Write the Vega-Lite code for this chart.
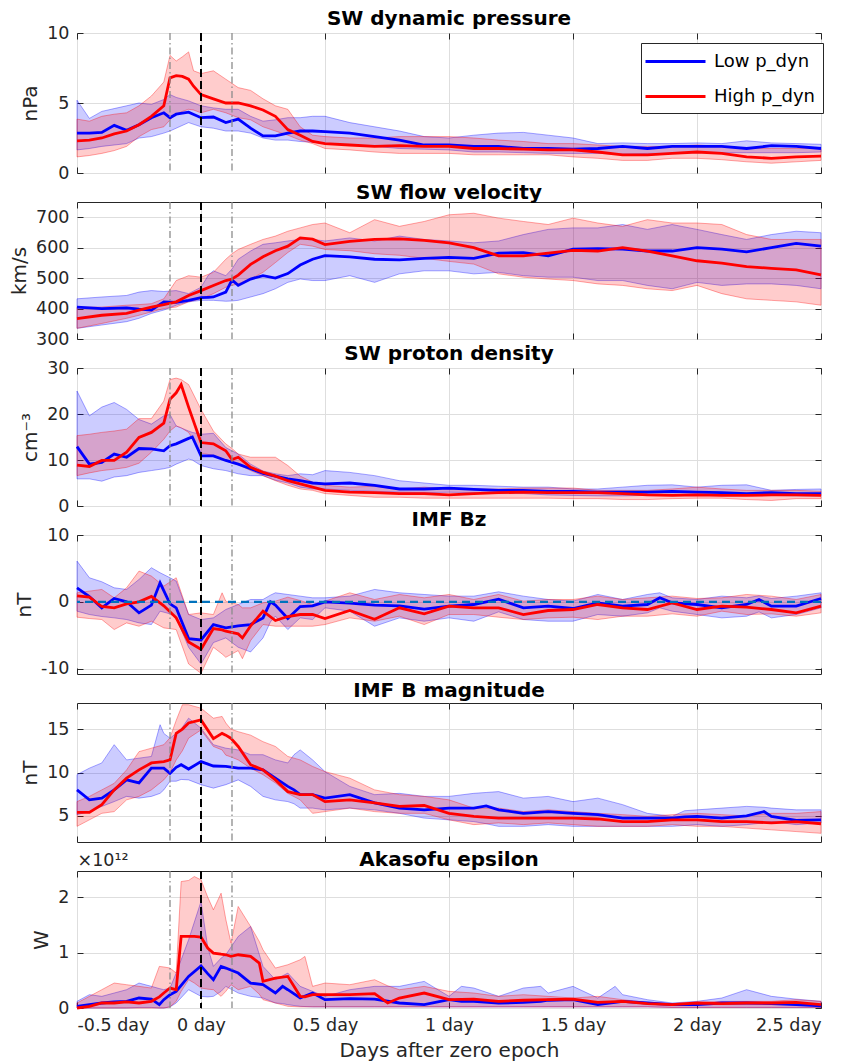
{
"$schema":"https://vega.github.io/schema/vega-lite/v6.json",
"padding":{"left":9,"top":8,"right":5,"bottom":0},
"bounds":"flush",
"spacing":29,
"config":{
 "font":"DejaVu Sans",
 "view":{"stroke":"#262626","strokeWidth":1},
 "axis":{"labelFont":"DejaVu Sans","labelFontSize":17.5,"labelColor":"#262626","titleFont":"DejaVu Sans","titleFontSize":20,"titleFontWeight":"normal","titleColor":"#262626","gridColor":"#dedede","gridWidth":1,"domain":false,"tickColor":"#262626","tickSize":-6,"labelPadding":14,"titlePadding":6},
 "title":{"font":"DejaVu Sans","fontSize":20,"fontWeight":"bold","color":"#000000","offset":-5}
},
"datasets":{
"markers":[{"day":-0.125,"kind":"window"},{"day":0,"kind":"epoch"},{"day":0.125,"kind":"window"}],
"zero":[{"level":0}],
"pdyn":[
{"group":"Low","day":-0.5,"mean":2.85,"lo":1.65,"hi":5.2},{"group":"Low","day":-0.45,"mean":2.85,"lo":1.75,"hi":3.9},{"group":"Low","day":-0.4,"mean":2.9,"lo":1.9,"hi":4.4},{"group":"Low","day":-0.35,"mean":3.4,"lo":2.0,"hi":4.6},{"group":"Low","day":-0.3,"mean":3.05,"lo":2.1,"hi":4.8},{"group":"Low","day":-0.25,"mean":3.45,"lo":2.5,"hi":5.0},{"group":"Low","day":-0.2,"mean":3.95,"lo":2.6,"hi":4.9},{"group":"Low","day":-0.15,"mean":4.3,"lo":2.85,"hi":5.25},{"group":"Low","day":-0.125,"mean":3.95,"lo":3.0,"hi":5.6},{"group":"Low","day":-0.1,"mean":4.2,"lo":3.2,"hi":5.4},{"group":"Low","day":-0.05,"mean":4.35,"lo":3.6,"hi":5.15},{"group":"Low","day":0,"mean":3.95,"lo":3.3,"hi":4.8},{"group":"Low","day":0.05,"mean":4.0,"lo":3.2,"hi":4.65},{"group":"Low","day":0.1,"mean":3.6,"lo":3.0,"hi":4.55},{"group":"Low","day":0.15,"mean":3.85,"lo":3.0,"hi":4.55},{"group":"Low","day":0.2,"mean":3.2,"lo":2.85,"hi":4.05},{"group":"Low","day":0.25,"mean":2.65,"lo":2.5,"hi":3.7},{"group":"Low","day":0.3,"mean":2.65,"lo":2.35,"hi":3.8},{"group":"Low","day":0.35,"mean":2.85,"lo":2.35,"hi":3.95},{"group":"Low","day":0.4,"mean":3.0,"lo":2.25,"hi":3.95},{"group":"Low","day":0.45,"mean":3.0,"lo":2.2,"hi":4.05},{"group":"Low","day":0.5,"mean":2.95,"lo":2.1,"hi":4.05},{"group":"Low","day":0.6,"mean":2.85,"lo":2.0,"hi":3.6},{"group":"Low","day":0.7,"mean":2.6,"lo":1.9,"hi":3.3},{"group":"Low","day":0.8,"mean":2.35,"lo":1.75,"hi":3.0},{"group":"Low","day":0.9,"mean":2.0,"lo":1.7,"hi":2.6},{"group":"Low","day":1.0,"mean":2.0,"lo":1.65,"hi":2.5},{"group":"Low","day":1.1,"mean":1.9,"lo":1.5,"hi":2.7},{"group":"Low","day":1.2,"mean":1.9,"lo":1.5,"hi":2.85},{"group":"Low","day":1.3,"mean":1.75,"lo":1.45,"hi":2.9},{"group":"Low","day":1.4,"mean":1.75,"lo":1.4,"hi":2.7},{"group":"Low","day":1.5,"mean":1.7,"lo":1.4,"hi":2.5},{"group":"Low","day":1.6,"mean":1.75,"lo":1.4,"hi":2.1},{"group":"Low","day":1.7,"mean":1.9,"lo":1.35,"hi":2.15},{"group":"Low","day":1.8,"mean":1.75,"lo":1.4,"hi":2.1},{"group":"Low","day":1.9,"mean":1.9,"lo":1.4,"hi":2.1},{"group":"Low","day":2.0,"mean":1.9,"lo":1.45,"hi":2.15},{"group":"Low","day":2.1,"mean":1.9,"lo":1.45,"hi":2.1},{"group":"Low","day":2.2,"mean":1.75,"lo":1.45,"hi":2.3},{"group":"Low","day":2.3,"mean":1.95,"lo":1.45,"hi":2.15},{"group":"Low","day":2.4,"mean":1.9,"lo":1.45,"hi":2.1},{"group":"Low","day":2.5,"mean":1.75,"lo":1.5,"hi":2.05},
{"group":"High","day":-0.5,"mean":2.3,"lo":1.15,"hi":3.85},{"group":"High","day":-0.45,"mean":2.35,"lo":1.25,"hi":3.7},{"group":"High","day":-0.4,"mean":2.5,"lo":1.4,"hi":4.05},{"group":"High","day":-0.35,"mean":2.8,"lo":1.6,"hi":4.2},{"group":"High","day":-0.3,"mean":3.0,"lo":1.9,"hi":4.3},{"group":"High","day":-0.25,"mean":3.45,"lo":2.6,"hi":4.8},{"group":"High","day":-0.2,"mean":4.05,"lo":3.1,"hi":5.5},{"group":"High","day":-0.15,"mean":4.8,"lo":3.3,"hi":6.5},{"group":"High","day":-0.125,"mean":6.8,"lo":3.8,"hi":8.4},{"group":"High","day":-0.1,"mean":6.95,"lo":4.2,"hi":8.0},{"group":"High","day":-0.075,"mean":6.9,"lo":4.4,"hi":8.3},{"group":"High","day":-0.05,"mean":6.7,"lo":4.55,"hi":8.65},{"group":"High","day":-0.03,"mean":6.2,"lo":4.5,"hi":7.3},{"group":"High","day":0,"mean":5.6,"lo":4.3,"hi":7.1},{"group":"High","day":0.05,"mean":5.3,"lo":4.55,"hi":7.3},{"group":"High","day":0.1,"mean":5.0,"lo":4.3,"hi":6.7},{"group":"High","day":0.15,"mean":5.0,"lo":3.95,"hi":6.1},{"group":"High","day":0.2,"mean":4.8,"lo":3.8,"hi":5.9},{"group":"High","day":0.25,"mean":4.5,"lo":3.3,"hi":5.3},{"group":"High","day":0.3,"mean":4.05,"lo":3.0,"hi":4.8},{"group":"High","day":0.35,"mean":3.1,"lo":2.7,"hi":4.55},{"group":"High","day":0.4,"mean":2.7,"lo":2.35,"hi":3.3},{"group":"High","day":0.45,"mean":2.25,"lo":2.1,"hi":2.7},{"group":"High","day":0.5,"mean":2.1,"lo":1.75,"hi":2.6},{"group":"High","day":0.6,"mean":2.0,"lo":1.65,"hi":2.5},{"group":"High","day":0.7,"mean":1.9,"lo":1.5,"hi":2.5},{"group":"High","day":0.8,"mean":1.95,"lo":1.4,"hi":2.6},{"group":"High","day":0.9,"mean":1.9,"lo":1.4,"hi":2.6},{"group":"High","day":1.0,"mean":1.9,"lo":1.4,"hi":2.6},{"group":"High","day":1.1,"mean":1.75,"lo":1.3,"hi":2.5},{"group":"High","day":1.2,"mean":1.75,"lo":1.3,"hi":2.35},{"group":"High","day":1.3,"mean":1.7,"lo":1.3,"hi":2.25},{"group":"High","day":1.4,"mean":1.65,"lo":1.3,"hi":2.1},{"group":"High","day":1.5,"mean":1.65,"lo":1.15,"hi":2.1},{"group":"High","day":1.6,"mean":1.5,"lo":1.05,"hi":2.0},{"group":"High","day":1.7,"mean":1.3,"lo":0.9,"hi":1.9},{"group":"High","day":1.8,"mean":1.3,"lo":0.9,"hi":1.9},{"group":"High","day":1.9,"mean":1.4,"lo":1.05,"hi":1.9},{"group":"High","day":2.0,"mean":1.5,"lo":1.05,"hi":2.0},{"group":"High","day":2.1,"mean":1.4,"lo":0.95,"hi":1.9},{"group":"High","day":2.2,"mean":1.15,"lo":0.8,"hi":1.75},{"group":"High","day":2.3,"mean":1.05,"lo":0.7,"hi":1.75},{"group":"High","day":2.4,"mean":1.15,"lo":0.8,"hi":1.75},{"group":"High","day":2.5,"mean":1.2,"lo":0.9,"hi":1.75}
],
"vsw":[
{"group":"Low","day":-0.5,"mean":405,"lo":335,"hi":432},{"group":"Low","day":-0.4,"mean":400,"lo":346,"hi":438},{"group":"Low","day":-0.3,"mean":402,"lo":357,"hi":443},{"group":"Low","day":-0.25,"mean":398,"lo":368,"hi":454},{"group":"Low","day":-0.2,"mean":395,"lo":384,"hi":459},{"group":"Low","day":-0.15,"mean":422,"lo":395,"hi":456},{"group":"Low","day":-0.1,"mean":420,"lo":411,"hi":459},{"group":"Low","day":-0.05,"mean":427,"lo":422,"hi":449},{"group":"Low","day":0,"mean":436,"lo":427,"hi":470},{"group":"Low","day":0.03,"mean":437,"lo":427,"hi":510},{"group":"Low","day":0.05,"mean":438,"lo":427,"hi":524},{"group":"Low","day":0.1,"mean":454,"lo":424,"hi":508},{"group":"Low","day":0.125,"mean":494,"lo":425,"hi":530},{"group":"Low","day":0.15,"mean":476,"lo":427,"hi":562},{"group":"Low","day":0.2,"mean":497,"lo":438,"hi":589},{"group":"Low","day":0.25,"mean":508,"lo":449,"hi":611},{"group":"Low","day":0.3,"mean":500,"lo":465,"hi":616},{"group":"Low","day":0.35,"mean":515,"lo":486,"hi":622},{"group":"Low","day":0.4,"mean":543,"lo":497,"hi":627},{"group":"Low","day":0.45,"mean":562,"lo":492,"hi":627},{"group":"Low","day":0.5,"mean":574,"lo":492,"hi":622},{"group":"Low","day":0.6,"mean":570,"lo":508,"hi":632},{"group":"Low","day":0.7,"mean":562,"lo":486,"hi":622},{"group":"Low","day":0.8,"mean":560,"lo":514,"hi":638},{"group":"Low","day":0.9,"mean":565,"lo":524,"hi":627},{"group":"Low","day":1.0,"mean":568,"lo":524,"hi":622},{"group":"Low","day":1.1,"mean":565,"lo":514,"hi":616},{"group":"Low","day":1.2,"mean":582,"lo":519,"hi":622},{"group":"Low","day":1.3,"mean":584,"lo":508,"hi":643},{"group":"Low","day":1.4,"mean":573,"lo":503,"hi":660},{"group":"Low","day":1.5,"mean":595,"lo":503,"hi":665},{"group":"Low","day":1.6,"mean":597,"lo":492,"hi":665},{"group":"Low","day":1.7,"mean":595,"lo":492,"hi":676},{"group":"Low","day":1.8,"mean":589,"lo":476,"hi":660},{"group":"Low","day":1.9,"mean":589,"lo":465,"hi":676},{"group":"Low","day":2.0,"mean":600,"lo":486,"hi":660},{"group":"Low","day":2.1,"mean":595,"lo":476,"hi":643},{"group":"Low","day":2.2,"mean":586,"lo":481,"hi":627},{"group":"Low","day":2.3,"mean":600,"lo":481,"hi":643},{"group":"Low","day":2.4,"mean":614,"lo":476,"hi":654},{"group":"Low","day":2.5,"mean":605,"lo":465,"hi":649},
{"group":"High","day":-0.5,"mean":367,"lo":335,"hi":405},{"group":"High","day":-0.4,"mean":378,"lo":351,"hi":405},{"group":"High","day":-0.3,"mean":384,"lo":368,"hi":411},{"group":"High","day":-0.25,"mean":395,"lo":378,"hi":413},{"group":"High","day":-0.2,"mean":405,"lo":389,"hi":416},{"group":"High","day":-0.15,"mean":413,"lo":400,"hi":432},{"group":"High","day":-0.1,"mean":422,"lo":405,"hi":492},{"group":"High","day":-0.05,"mean":443,"lo":422,"hi":508},{"group":"High","day":0,"mean":459,"lo":432,"hi":503},{"group":"High","day":0.05,"mean":476,"lo":449,"hi":519},{"group":"High","day":0.1,"mean":492,"lo":470,"hi":562},{"group":"High","day":0.125,"mean":497,"lo":476,"hi":580},{"group":"High","day":0.15,"mean":510,"lo":481,"hi":594},{"group":"High","day":0.2,"mean":545,"lo":497,"hi":611},{"group":"High","day":0.25,"mean":570,"lo":519,"hi":627},{"group":"High","day":0.3,"mean":590,"lo":551,"hi":638},{"group":"High","day":0.35,"mean":605,"lo":584,"hi":654},{"group":"High","day":0.4,"mean":632,"lo":611,"hi":665},{"group":"High","day":0.45,"mean":628,"lo":605,"hi":676},{"group":"High","day":0.5,"mean":610,"lo":594,"hi":681},{"group":"High","day":0.6,"mean":621,"lo":590,"hi":649},{"group":"High","day":0.7,"mean":627,"lo":580,"hi":692},{"group":"High","day":0.8,"mean":629,"lo":575,"hi":670},{"group":"High","day":0.9,"mean":624,"lo":565,"hi":686},{"group":"High","day":1.0,"mean":616,"lo":555,"hi":708},{"group":"High","day":1.1,"mean":600,"lo":546,"hi":713},{"group":"High","day":1.2,"mean":573,"lo":514,"hi":697},{"group":"High","day":1.3,"mean":573,"lo":503,"hi":686},{"group":"High","day":1.4,"mean":582,"lo":497,"hi":676},{"group":"High","day":1.5,"mean":591,"lo":492,"hi":697},{"group":"High","day":1.6,"mean":589,"lo":481,"hi":681},{"group":"High","day":1.7,"mean":600,"lo":476,"hi":670},{"group":"High","day":1.8,"mean":589,"lo":465,"hi":692},{"group":"High","day":1.9,"mean":573,"lo":459,"hi":681},{"group":"High","day":2.0,"mean":557,"lo":476,"hi":681},{"group":"High","day":2.1,"mean":549,"lo":449,"hi":676},{"group":"High","day":2.2,"mean":538,"lo":432,"hi":643},{"group":"High","day":2.3,"mean":532,"lo":427,"hi":627},{"group":"High","day":2.4,"mean":527,"lo":422,"hi":627},{"group":"High","day":2.5,"mean":511,"lo":411,"hi":627}
],
"np":[
{"group":"Low","day":-0.5,"mean":12.9,"lo":5.9,"hi":25.0},{"group":"Low","day":-0.45,"mean":9.1,"lo":5.9,"hi":19.6},{"group":"Low","day":-0.4,"mean":9.5,"lo":5.4,"hi":21.5},{"group":"Low","day":-0.35,"mean":11.3,"lo":6.3,"hi":22.5},{"group":"Low","day":-0.3,"mean":10.6,"lo":6.6,"hi":21.0},{"group":"Low","day":-0.25,"mean":12.5,"lo":7.3,"hi":18.8},{"group":"Low","day":-0.2,"mean":12.4,"lo":7.7,"hi":17.8},{"group":"Low","day":-0.15,"mean":12.0,"lo":8.1,"hi":19.6},{"group":"Low","day":-0.125,"mean":13.1,"lo":8.4,"hi":19.9},{"group":"Low","day":-0.1,"mean":13.5,"lo":9.1,"hi":17.4},{"group":"Low","day":-0.05,"mean":14.7,"lo":10.2,"hi":16.3},{"group":"Low","day":-0.035,"mean":15.0,"lo":10.0,"hi":16.0},{"group":"Low","day":0,"mean":10.9,"lo":8.8,"hi":15.6},{"group":"Low","day":0.05,"mean":10.9,"lo":8.1,"hi":15.8},{"group":"Low","day":0.1,"mean":9.9,"lo":7.7,"hi":12.7},{"group":"Low","day":0.15,"mean":9.1,"lo":7.0,"hi":11.3},{"group":"Low","day":0.2,"mean":8.1,"lo":6.6,"hi":9.1},{"group":"Low","day":0.25,"mean":7.1,"lo":6.6,"hi":7.6},{"group":"Low","day":0.3,"mean":6.5,"lo":5.6,"hi":7.0},{"group":"Low","day":0.35,"mean":5.9,"lo":5.0,"hi":6.6},{"group":"Low","day":0.4,"mean":5.5,"lo":4.1,"hi":7.0},{"group":"Low","day":0.45,"mean":5.0,"lo":3.7,"hi":6.8},{"group":"Low","day":0.5,"mean":4.8,"lo":3.7,"hi":7.7},{"group":"Low","day":0.6,"mean":5.0,"lo":3.4,"hi":7.3},{"group":"Low","day":0.7,"mean":4.5,"lo":3.2,"hi":6.6},{"group":"Low","day":0.8,"mean":3.7,"lo":3.0,"hi":5.5},{"group":"Low","day":0.9,"mean":3.7,"lo":2.9,"hi":5.0},{"group":"Low","day":1.0,"mean":3.9,"lo":3.0,"hi":4.5},{"group":"Low","day":1.1,"mean":3.6,"lo":2.9,"hi":4.5},{"group":"Low","day":1.2,"mean":3.4,"lo":2.7,"hi":4.3},{"group":"Low","day":1.3,"mean":3.4,"lo":2.7,"hi":4.1},{"group":"Low","day":1.4,"mean":3.2,"lo":2.4,"hi":4.1},{"group":"Low","day":1.5,"mean":3.2,"lo":2.3,"hi":3.7},{"group":"Low","day":1.6,"mean":3.0,"lo":2.2,"hi":3.7},{"group":"Low","day":1.7,"mean":3.0,"lo":2.2,"hi":4.1},{"group":"Low","day":1.8,"mean":3.0,"lo":2.3,"hi":4.5},{"group":"Low","day":1.9,"mean":3.2,"lo":2.3,"hi":4.6},{"group":"Low","day":2.0,"mean":3.0,"lo":2.3,"hi":4.1},{"group":"Low","day":2.1,"mean":2.9,"lo":2.3,"hi":4.5},{"group":"Low","day":2.2,"mean":2.7,"lo":2.4,"hi":4.6},{"group":"Low","day":2.3,"mean":2.9,"lo":2.3,"hi":3.4},{"group":"Low","day":2.4,"mean":2.7,"lo":2.2,"hi":3.6},{"group":"Low","day":2.5,"mean":2.7,"lo":2.2,"hi":3.7},
{"group":"High","day":-0.5,"mean":8.9,"lo":6.6,"hi":15.3},{"group":"High","day":-0.45,"mean":8.6,"lo":7.2,"hi":15.6},{"group":"High","day":-0.4,"mean":9.9,"lo":7.7,"hi":16.0},{"group":"High","day":-0.35,"mean":9.9,"lo":8.0,"hi":16.3},{"group":"High","day":-0.3,"mean":11.7,"lo":8.4,"hi":16.7},{"group":"High","day":-0.25,"mean":14.9,"lo":9.3,"hi":19.0},{"group":"High","day":-0.2,"mean":16.0,"lo":11.7,"hi":19.0},{"group":"High","day":-0.15,"mean":18.0,"lo":14.5,"hi":22.8},{"group":"High","day":-0.125,"mean":23.2,"lo":16.3,"hi":27.5},{"group":"High","day":-0.1,"mean":24.6,"lo":17.4,"hi":27.8},{"group":"High","day":-0.08,"mean":26.4,"lo":17.0,"hi":27.5},{"group":"High","day":-0.05,"mean":21.5,"lo":16.0,"hi":26.4},{"group":"High","day":0,"mean":13.8,"lo":11.5,"hi":21.0},{"group":"High","day":0.05,"mean":13.5,"lo":11.0,"hi":16.3},{"group":"High","day":0.1,"mean":12.0,"lo":10.0,"hi":13.5},{"group":"High","day":0.125,"mean":10.1,"lo":9.3,"hi":12.5},{"group":"High","day":0.15,"mean":10.6,"lo":9.0,"hi":11.3},{"group":"High","day":0.2,"mean":8.4,"lo":7.7,"hi":10.6},{"group":"High","day":0.25,"mean":7.3,"lo":6.6,"hi":10.6},{"group":"High","day":0.3,"mean":6.5,"lo":5.5,"hi":10.6},{"group":"High","day":0.35,"mean":5.5,"lo":4.5,"hi":8.8},{"group":"High","day":0.4,"mean":4.8,"lo":3.7,"hi":6.5},{"group":"High","day":0.45,"mean":4.1,"lo":3.4,"hi":5.2},{"group":"High","day":0.5,"mean":3.4,"lo":2.7,"hi":4.5},{"group":"High","day":0.6,"mean":3.0,"lo":2.3,"hi":4.1},{"group":"High","day":0.7,"mean":2.9,"lo":1.9,"hi":4.3},{"group":"High","day":0.8,"mean":2.7,"lo":1.9,"hi":3.7},{"group":"High","day":0.9,"mean":2.7,"lo":1.7,"hi":4.1},{"group":"High","day":1.0,"mean":2.4,"lo":1.7,"hi":3.7},{"group":"High","day":1.1,"mean":2.7,"lo":1.7,"hi":3.7},{"group":"High","day":1.2,"mean":2.9,"lo":1.7,"hi":3.7},{"group":"High","day":1.3,"mean":3.0,"lo":1.7,"hi":3.9},{"group":"High","day":1.4,"mean":2.9,"lo":1.7,"hi":3.9},{"group":"High","day":1.5,"mean":2.9,"lo":1.6,"hi":3.9},{"group":"High","day":1.6,"mean":2.9,"lo":1.6,"hi":3.4},{"group":"High","day":1.7,"mean":2.7,"lo":1.4,"hi":3.4},{"group":"High","day":1.8,"mean":2.4,"lo":1.4,"hi":3.4},{"group":"High","day":1.9,"mean":2.3,"lo":1.6,"hi":3.7},{"group":"High","day":2.0,"mean":2.4,"lo":1.7,"hi":4.1},{"group":"High","day":2.1,"mean":2.3,"lo":1.7,"hi":3.7},{"group":"High","day":2.2,"mean":2.3,"lo":1.4,"hi":3.4},{"group":"High","day":2.3,"mean":2.4,"lo":1.2,"hi":3.4},{"group":"High","day":2.4,"mean":2.4,"lo":1.6,"hi":3.4},{"group":"High","day":2.5,"mean":2.3,"lo":1.6,"hi":3.2}
],
"bz":[
{"group":"Low","day":-0.5,"mean":2.1,"lo":-1.4,"hi":6.1},{"group":"Low","day":-0.45,"mean":0.8,"lo":-1.9,"hi":3.6},{"group":"Low","day":-0.4,"mean":-0.9,"lo":-2.2,"hi":3.0},{"group":"Low","day":-0.35,"mean":0.5,"lo":-2.4,"hi":2.1},{"group":"Low","day":-0.3,"mean":0.0,"lo":-2.65,"hi":1.85},{"group":"Low","day":-0.25,"mean":-1.65,"lo":-3.15,"hi":3.35},{"group":"Low","day":-0.2,"mean":-0.5,"lo":-3.4,"hi":5.1},{"group":"Low","day":-0.165,"mean":2.85,"lo":-1.4,"hi":4.35},{"group":"Low","day":-0.125,"mean":-0.3,"lo":-1.8,"hi":3.6},{"group":"Low","day":-0.1,"mean":-0.9,"lo":-2.4,"hi":3.1},{"group":"Low","day":-0.05,"mean":-5.5,"lo":-6.8,"hi":-1.9},{"group":"Low","day":0,"mean":-5.7,"lo":-9.3,"hi":-2.65},{"group":"Low","day":0.05,"mean":-3.4,"lo":-6.1,"hi":-2.4},{"group":"Low","day":0.1,"mean":-3.9,"lo":-5.4,"hi":-1.15},{"group":"Low","day":0.15,"mean":-3.6,"lo":-6.8,"hi":-0.4},{"group":"Low","day":0.2,"mean":-3.4,"lo":-7.5,"hi":0.35},{"group":"Low","day":0.25,"mean":-2.4,"lo":-5.4,"hi":0.35},{"group":"Low","day":0.28,"mean":0.0,"lo":-3.0,"hi":1.0},{"group":"Low","day":0.3,"mean":-0.5,"lo":-2.15,"hi":1.35},{"group":"Low","day":0.35,"mean":-2.5,"lo":-4.15,"hi":1.1},{"group":"Low","day":0.4,"mean":-0.7,"lo":-2.4,"hi":0.85},{"group":"Low","day":0.45,"mean":-0.6,"lo":-2.65,"hi":0.6},{"group":"Low","day":0.5,"mean":0.0,"lo":-0.9,"hi":0.6},{"group":"Low","day":0.6,"mean":-0.2,"lo":-1.4,"hi":0.85},{"group":"Low","day":0.7,"mean":-0.5,"lo":-3.65,"hi":1.85},{"group":"Low","day":0.8,"mean":-0.6,"lo":-2.4,"hi":1.35},{"group":"Low","day":0.9,"mean":-1.1,"lo":-2.9,"hi":1.1},{"group":"Low","day":1.0,"mean":-0.65,"lo":-2.4,"hi":0.85},{"group":"Low","day":1.1,"mean":-0.4,"lo":-2.9,"hi":0.85},{"group":"Low","day":1.2,"mean":0.4,"lo":-1.5,"hi":1.5},{"group":"Low","day":1.3,"mean":-0.9,"lo":-2.65,"hi":0.85},{"group":"Low","day":1.4,"mean":-0.65,"lo":-2.9,"hi":0.35},{"group":"Low","day":1.5,"mean":-1.0,"lo":-2.9,"hi":0.1},{"group":"Low","day":1.6,"mean":-0.15,"lo":-1.9,"hi":1.1},{"group":"Low","day":1.7,"mean":-0.65,"lo":-2.15,"hi":0.35},{"group":"Low","day":1.8,"mean":-0.4,"lo":-1.65,"hi":1.1},{"group":"Low","day":1.85,"mean":0.6,"lo":-0.9,"hi":1.35},{"group":"Low","day":1.9,"mean":-0.15,"lo":-1.4,"hi":0.6},{"group":"Low","day":2.0,"mean":-0.4,"lo":-1.9,"hi":0.35},{"group":"Low","day":2.1,"mean":-0.9,"lo":-2.4,"hi":0.85},{"group":"Low","day":2.2,"mean":-0.4,"lo":-2.15,"hi":0.6},{"group":"Low","day":2.25,"mean":0.35,"lo":-1.5,"hi":0.9},{"group":"Low","day":2.3,"mean":-0.65,"lo":-2.4,"hi":0.5},{"group":"Low","day":2.4,"mean":-0.65,"lo":-1.9,"hi":0.85},{"group":"Low","day":2.5,"mean":0.5,"lo":-0.9,"hi":1.35},
{"group":"High","day":-0.5,"mean":0.9,"lo":-2.3,"hi":1.35},{"group":"High","day":-0.45,"mean":0.7,"lo":-2.5,"hi":1.6},{"group":"High","day":-0.4,"mean":-0.7,"lo":-2.65,"hi":1.85},{"group":"High","day":-0.35,"mean":-0.9,"lo":-4.15,"hi":0.6},{"group":"High","day":-0.3,"mean":-0.3,"lo":-3.15,"hi":2.1},{"group":"High","day":-0.25,"mean":0.0,"lo":-3.65,"hi":4.6},{"group":"High","day":-0.2,"mean":0.8,"lo":-2.9,"hi":3.85},{"group":"High","day":-0.15,"mean":-0.6,"lo":-3.9,"hi":2.35},{"group":"High","day":-0.1,"mean":-2.4,"lo":-4.15,"hi":3.6},{"group":"High","day":-0.05,"mean":-6.0,"lo":-9.3,"hi":-1.9},{"group":"High","day":0,"mean":-7.1,"lo":-10.7,"hi":-1.65},{"group":"High","day":0.05,"mean":-4.0,"lo":-6.8,"hi":-1.9},{"group":"High","day":0.085,"mean":-4.2,"lo":-7.8,"hi":1.35},{"group":"High","day":0.1,"mean":-4.4,"lo":-8.3,"hi":0.1},{"group":"High","day":0.15,"mean":-4.8,"lo":-7.3,"hi":-0.4},{"group":"High","day":0.167,"mean":-5.4,"lo":-8.5,"hi":-0.9},{"group":"High","day":0.2,"mean":-3.6,"lo":-5.8,"hi":-0.9},{"group":"High","day":0.25,"mean":-1.4,"lo":-3.4,"hi":-0.15},{"group":"High","day":0.3,"mean":-2.8,"lo":-3.65,"hi":0.1},{"group":"High","day":0.35,"mean":-2.2,"lo":-3.65,"hi":0.7},{"group":"High","day":0.4,"mean":-1.9,"lo":-3.65,"hi":0.2},{"group":"High","day":0.45,"mean":-1.9,"lo":-3.65,"hi":-0.4},{"group":"High","day":0.5,"mean":-2.5,"lo":-3.4,"hi":0.1},{"group":"High","day":0.6,"mean":-1.3,"lo":-2.4,"hi":1.35},{"group":"High","day":0.7,"mean":-2.6,"lo":-2.9,"hi":0.35},{"group":"High","day":0.8,"mean":-0.9,"lo":-2.15,"hi":1.1},{"group":"High","day":0.9,"mean":-1.8,"lo":-3.4,"hi":0.6},{"group":"High","day":1.0,"mean":-0.65,"lo":-1.9,"hi":1.1},{"group":"High","day":1.1,"mean":-0.9,"lo":-1.9,"hi":0.35},{"group":"High","day":1.2,"mean":-0.9,"lo":-2.3,"hi":1.1},{"group":"High","day":1.3,"mean":-1.9,"lo":-2.65,"hi":0.1},{"group":"High","day":1.4,"mean":-1.3,"lo":-2.4,"hi":0.35},{"group":"High","day":1.5,"mean":-1.15,"lo":-2.3,"hi":0.35},{"group":"High","day":1.6,"mean":-0.4,"lo":-2.65,"hi":0.85},{"group":"High","day":1.7,"mean":-0.9,"lo":-2.15,"hi":0.35},{"group":"High","day":1.8,"mean":-1.15,"lo":-2.15,"hi":0.6},{"group":"High","day":1.9,"mean":-0.15,"lo":-1.8,"hi":0.85},{"group":"High","day":2.0,"mean":-1.15,"lo":-2.15,"hi":0.5},{"group":"High","day":2.1,"mean":-0.65,"lo":-1.4,"hi":0.6},{"group":"High","day":2.2,"mean":-0.8,"lo":-1.9,"hi":1.1},{"group":"High","day":2.3,"mean":-1.15,"lo":-1.8,"hi":0.85},{"group":"High","day":2.4,"mean":-1.65,"lo":-2.15,"hi":0.35},{"group":"High","day":2.5,"mean":-0.65,"lo":-1.65,"hi":1.1}
],
"bmag":[
{"group":"Low","day":-0.5,"mean":8.0,"lo":5.15,"hi":9.75},{"group":"Low","day":-0.45,"mean":6.85,"lo":5.5,"hi":10.5},{"group":"Low","day":-0.4,"mean":7.05,"lo":6.1,"hi":11.1},{"group":"Low","day":-0.35,"mean":8.0,"lo":6.65,"hi":13.2},{"group":"Low","day":-0.3,"mean":9.15,"lo":7.25,"hi":11.45},{"group":"Low","day":-0.25,"mean":8.8,"lo":7.05,"hi":11.65},{"group":"Low","day":-0.2,"mean":10.5,"lo":7.25,"hi":11.85},{"group":"Low","day":-0.165,"mean":10.5,"lo":7.6,"hi":15.5},{"group":"Low","day":-0.15,"mean":10.5,"lo":8.0,"hi":14.5},{"group":"Low","day":-0.125,"mean":9.9,"lo":9.0,"hi":13.95},{"group":"Low","day":-0.1,"mean":10.6,"lo":9.0,"hi":14.5},{"group":"Low","day":-0.08,"mean":10.9,"lo":9.2,"hi":15.0},{"group":"Low","day":-0.05,"mean":10.4,"lo":9.15,"hi":16.25},{"group":"Low","day":0,"mean":11.25,"lo":8.6,"hi":15.1},{"group":"Low","day":0.05,"mean":10.75,"lo":8.2,"hi":13.2},{"group":"Low","day":0.1,"mean":10.7,"lo":8.6,"hi":12.8},{"group":"Low","day":0.15,"mean":10.5,"lo":9.15,"hi":12.6},{"group":"Low","day":0.2,"mean":10.5,"lo":8.4,"hi":12.05},{"group":"Low","day":0.25,"mean":10.3,"lo":7.25,"hi":12.05},{"group":"Low","day":0.3,"mean":9.35,"lo":6.85,"hi":11.45},{"group":"Low","day":0.35,"mean":8.4,"lo":6.65,"hi":11.1},{"group":"Low","day":0.375,"mean":8.0,"lo":6.4,"hi":12.05},{"group":"Low","day":0.4,"mean":7.45,"lo":5.9,"hi":12.6},{"group":"Low","day":0.45,"mean":7.45,"lo":5.9,"hi":11.45},{"group":"Low","day":0.5,"mean":7.05,"lo":5.7,"hi":10.1},{"group":"Low","day":0.6,"mean":7.45,"lo":5.9,"hi":8.4},{"group":"Low","day":0.7,"mean":6.5,"lo":5.7,"hi":7.45},{"group":"Low","day":0.8,"mean":5.9,"lo":5.3,"hi":7.6},{"group":"Low","day":0.9,"mean":5.7,"lo":4.75,"hi":7.25},{"group":"Low","day":1.0,"mean":5.9,"lo":4.55,"hi":7.25},{"group":"Low","day":1.1,"mean":5.9,"lo":4.35,"hi":7.6},{"group":"Low","day":1.15,"mean":6.15,"lo":4.1,"hi":7.7},{"group":"Low","day":1.2,"mean":5.7,"lo":3.8,"hi":7.8},{"group":"Low","day":1.3,"mean":5.3,"lo":3.8,"hi":7.05},{"group":"Low","day":1.4,"mean":5.5,"lo":4.0,"hi":7.25},{"group":"Low","day":1.5,"mean":5.3,"lo":3.8,"hi":6.65},{"group":"Low","day":1.6,"mean":5.15,"lo":3.8,"hi":7.05},{"group":"Low","day":1.7,"mean":4.75,"lo":3.8,"hi":6.3},{"group":"Low","day":1.8,"mean":4.75,"lo":3.8,"hi":5.3},{"group":"Low","day":1.9,"mean":4.75,"lo":3.8,"hi":4.95},{"group":"Low","day":1.95,"mean":4.9,"lo":3.9,"hi":5.6},{"group":"Low","day":2.0,"mean":4.95,"lo":4.0,"hi":5.7},{"group":"Low","day":2.1,"mean":4.75,"lo":3.8,"hi":5.9},{"group":"Low","day":2.2,"mean":5.0,"lo":4.0,"hi":6.1},{"group":"Low","day":2.27,"mean":5.5,"lo":4.2,"hi":6.0},{"group":"Low","day":2.3,"mean":4.95,"lo":4.35,"hi":5.9},{"group":"Low","day":2.4,"mean":4.5,"lo":4.0,"hi":5.7},{"group":"Low","day":2.5,"mean":4.55,"lo":4.2,"hi":5.7},
{"group":"High","day":-0.5,"mean":5.4,"lo":3.8,"hi":6.65},{"group":"High","day":-0.45,"mean":5.4,"lo":4.55,"hi":7.25},{"group":"High","day":-0.4,"mean":6.3,"lo":5.3,"hi":8.0},{"group":"High","day":-0.35,"mean":8.0,"lo":5.5,"hi":8.75},{"group":"High","day":-0.3,"mean":9.35,"lo":6.85,"hi":10.3},{"group":"High","day":-0.25,"mean":10.3,"lo":7.25,"hi":12.4},{"group":"High","day":-0.2,"mean":11.1,"lo":8.0,"hi":12.8},{"group":"High","day":-0.15,"mean":11.25,"lo":9.15,"hi":13.2},{"group":"High","day":-0.125,"mean":11.45,"lo":10.0,"hi":14.0},{"group":"High","day":-0.1,"mean":14.5,"lo":11.45,"hi":16.0},{"group":"High","day":-0.075,"mean":15.0,"lo":12.5,"hi":17.8},{"group":"High","day":-0.05,"mean":15.7,"lo":13.95,"hi":17.8},{"group":"High","day":0,"mean":16.05,"lo":14.9,"hi":17.4},{"group":"High","day":0.05,"mean":13.9,"lo":13.0,"hi":16.25},{"group":"High","day":0.085,"mean":14.5,"lo":12.6,"hi":16.45},{"group":"High","day":0.1,"mean":14.3,"lo":12.0,"hi":15.7},{"group":"High","day":0.12,"mean":13.95,"lo":11.8,"hi":15.0},{"group":"High","day":0.15,"mean":13.0,"lo":11.45,"hi":14.7},{"group":"High","day":0.2,"mean":10.9,"lo":10.5,"hi":14.3},{"group":"High","day":0.25,"mean":10.3,"lo":9.75,"hi":13.55},{"group":"High","day":0.3,"mean":9.15,"lo":8.8,"hi":13.0},{"group":"High","day":0.35,"mean":7.8,"lo":7.6,"hi":11.85},{"group":"High","day":0.4,"mean":7.45,"lo":6.85,"hi":11.45},{"group":"High","day":0.45,"mean":7.45,"lo":5.3,"hi":10.7},{"group":"High","day":0.5,"mean":6.65,"lo":5.5,"hi":10.1},{"group":"High","day":0.6,"mean":6.85,"lo":5.9,"hi":9.35},{"group":"High","day":0.7,"mean":6.5,"lo":5.5,"hi":8.0},{"group":"High","day":0.8,"mean":6.1,"lo":5.3,"hi":7.45},{"group":"High","day":0.9,"mean":6.2,"lo":5.3,"hi":7.25},{"group":"High","day":1.0,"mean":5.3,"lo":4.55,"hi":6.85},{"group":"High","day":1.1,"mean":4.95,"lo":4.0,"hi":5.9},{"group":"High","day":1.2,"mean":4.75,"lo":4.2,"hi":5.9},{"group":"High","day":1.3,"mean":4.75,"lo":4.0,"hi":5.5},{"group":"High","day":1.4,"mean":4.75,"lo":4.2,"hi":5.7},{"group":"High","day":1.5,"mean":4.75,"lo":4.0,"hi":5.5},{"group":"High","day":1.6,"mean":4.65,"lo":3.8,"hi":5.3},{"group":"High","day":1.7,"mean":4.35,"lo":3.8,"hi":5.15},{"group":"High","day":1.8,"mean":4.35,"lo":3.8,"hi":4.95},{"group":"High","day":1.9,"mean":4.55,"lo":4.0,"hi":5.15},{"group":"High","day":2.0,"mean":4.55,"lo":3.8,"hi":5.3},{"group":"High","day":2.1,"mean":4.35,"lo":3.8,"hi":5.15},{"group":"High","day":2.2,"mean":4.35,"lo":3.6,"hi":5.0},{"group":"High","day":2.3,"mean":4.2,"lo":3.4,"hi":5.3},{"group":"High","day":2.4,"mean":4.35,"lo":3.2,"hi":5.3},{"group":"High","day":2.5,"mean":4.1,"lo":3.0,"hi":5.5}
],
"eps":[
{"group":"Low","day":-0.5,"mean":0.03,"lo":0.0,"hi":0.12},{"group":"Low","day":-0.45,"mean":0.06,"lo":0.0,"hi":0.24},{"group":"Low","day":-0.4,"mean":0.09,"lo":0.0,"hi":0.21},{"group":"Low","day":-0.35,"mean":0.11,"lo":0.0,"hi":0.27},{"group":"Low","day":-0.3,"mean":0.12,"lo":0.0,"hi":0.33},{"group":"Low","day":-0.25,"mean":0.18,"lo":0.01,"hi":0.45},{"group":"Low","day":-0.2,"mean":0.16,"lo":0.01,"hi":0.39},{"group":"Low","day":-0.168,"mean":0.06,"lo":0.0,"hi":0.35},{"group":"Low","day":-0.15,"mean":0.15,"lo":0.0,"hi":0.33},{"group":"Low","day":-0.125,"mean":0.24,"lo":0.02,"hi":0.36},{"group":"Low","day":-0.1,"mean":0.3,"lo":0.09,"hi":0.63},{"group":"Low","day":-0.05,"mean":0.57,"lo":0.33,"hi":1.23},{"group":"Low","day":0,"mean":0.76,"lo":0.21,"hi":1.92},{"group":"Low","day":0.027,"mean":0.62,"lo":0.2,"hi":1.1},{"group":"Low","day":0.05,"mean":0.51,"lo":0.21,"hi":0.75},{"group":"Low","day":0.081,"mean":0.75,"lo":0.3,"hi":0.9},{"group":"Low","day":0.1,"mean":0.72,"lo":0.39,"hi":0.96},{"group":"Low","day":0.15,"mean":0.63,"lo":0.27,"hi":1.29},{"group":"Low","day":0.2,"mean":0.45,"lo":0.21,"hi":1.47},{"group":"Low","day":0.25,"mean":0.42,"lo":0.18,"hi":0.75},{"group":"Low","day":0.3,"mean":0.27,"lo":0.09,"hi":0.51},{"group":"Low","day":0.329,"mean":0.39,"lo":0.08,"hi":0.58},{"group":"Low","day":0.35,"mean":0.33,"lo":0.06,"hi":0.63},{"group":"Low","day":0.4,"mean":0.18,"lo":0.03,"hi":0.39},{"group":"Low","day":0.45,"mean":0.27,"lo":0.02,"hi":0.3},{"group":"Low","day":0.5,"mean":0.15,"lo":0.02,"hi":0.21},{"group":"Low","day":0.6,"mean":0.17,"lo":0.02,"hi":0.33},{"group":"Low","day":0.7,"mean":0.16,"lo":0.02,"hi":0.39},{"group":"Low","day":0.8,"mean":0.09,"lo":0.02,"hi":0.39},{"group":"Low","day":0.9,"mean":0.06,"lo":0.02,"hi":0.48},{"group":"Low","day":1.0,"mean":0.15,"lo":0.02,"hi":0.21},{"group":"Low","day":1.05,"mean":0.12,"lo":0.02,"hi":0.39},{"group":"Low","day":1.1,"mean":0.12,"lo":0.02,"hi":0.36},{"group":"Low","day":1.2,"mean":0.09,"lo":0.02,"hi":0.21},{"group":"Low","day":1.3,"mean":0.1,"lo":0.02,"hi":0.36},{"group":"Low","day":1.37,"mean":0.12,"lo":0.02,"hi":0.39},{"group":"Low","day":1.4,"mean":0.14,"lo":0.02,"hi":0.27},{"group":"Low","day":1.5,"mean":0.15,"lo":0.02,"hi":0.39},{"group":"Low","day":1.6,"mean":0.06,"lo":0.02,"hi":0.18},{"group":"Low","day":1.67,"mean":0.1,"lo":0.02,"hi":0.39},{"group":"Low","day":1.7,"mean":0.12,"lo":0.02,"hi":0.24},{"group":"Low","day":1.8,"mean":0.09,"lo":0.02,"hi":0.15},{"group":"Low","day":1.9,"mean":0.06,"lo":0.01,"hi":0.09},{"group":"Low","day":2.0,"mean":0.06,"lo":0.01,"hi":0.12},{"group":"Low","day":2.1,"mean":0.09,"lo":0.01,"hi":0.18},{"group":"Low","day":2.2,"mean":0.09,"lo":0.01,"hi":0.33},{"group":"Low","day":2.3,"mean":0.08,"lo":0.01,"hi":0.21},{"group":"Low","day":2.4,"mean":0.06,"lo":0.01,"hi":0.16},{"group":"Low","day":2.5,"mean":0.04,"lo":0.01,"hi":0.12},
{"group":"High","day":-0.5,"mean":0.0,"lo":0.0,"hi":0.09},{"group":"High","day":-0.45,"mean":0.03,"lo":0.0,"hi":0.21},{"group":"High","day":-0.4,"mean":0.09,"lo":0.0,"hi":0.33},{"group":"High","day":-0.35,"mean":0.09,"lo":0.0,"hi":0.45},{"group":"High","day":-0.3,"mean":0.11,"lo":0.0,"hi":0.42},{"group":"High","day":-0.25,"mean":0.09,"lo":0.0,"hi":0.39},{"group":"High","day":-0.2,"mean":0.12,"lo":0.0,"hi":0.36},{"group":"High","day":-0.168,"mean":0.2,"lo":0.0,"hi":0.75},{"group":"High","day":-0.15,"mean":0.27,"lo":0.0,"hi":0.74},{"group":"High","day":-0.125,"mean":0.36,"lo":0.02,"hi":0.72},{"group":"High","day":-0.1,"mean":0.33,"lo":0.12,"hi":0.63},{"group":"High","day":-0.08,"mean":1.29,"lo":0.3,"hi":2.28},{"group":"High","day":-0.05,"mean":1.29,"lo":0.51,"hi":2.3},{"group":"High","day":-0.027,"mean":1.29,"lo":0.45,"hi":2.37},{"group":"High","day":0,"mean":1.28,"lo":0.36,"hi":2.31},{"group":"High","day":0.027,"mean":1.08,"lo":0.34,"hi":2.0},{"group":"High","day":0.05,"mean":0.99,"lo":0.33,"hi":1.77},{"group":"High","day":0.081,"mean":0.97,"lo":0.21,"hi":2.07},{"group":"High","day":0.1,"mean":0.96,"lo":0.3,"hi":1.6},{"group":"High","day":0.121,"mean":0.93,"lo":0.42,"hi":1.17},{"group":"High","day":0.15,"mean":0.96,"lo":0.33,"hi":1.83},{"group":"High","day":0.2,"mean":0.93,"lo":0.39,"hi":1.47},{"group":"High","day":0.235,"mean":0.81,"lo":0.25,"hi":1.2},{"group":"High","day":0.25,"mean":0.48,"lo":0.15,"hi":1.05},{"group":"High","day":0.3,"mean":0.54,"lo":0.09,"hi":0.72},{"group":"High","day":0.35,"mean":0.57,"lo":0.03,"hi":0.78},{"group":"High","day":0.4,"mean":0.21,"lo":0.02,"hi":0.87},{"group":"High","day":0.419,"mean":0.2,"lo":0.02,"hi":0.93},{"group":"High","day":0.45,"mean":0.24,"lo":0.02,"hi":0.39},{"group":"High","day":0.5,"mean":0.24,"lo":0.02,"hi":0.45},{"group":"High","day":0.6,"mean":0.24,"lo":0.02,"hi":0.42},{"group":"High","day":0.7,"mean":0.26,"lo":0.02,"hi":0.51},{"group":"High","day":0.753,"mean":0.09,"lo":0.02,"hi":0.4},{"group":"High","day":0.8,"mean":0.18,"lo":0.02,"hi":0.33},{"group":"High","day":0.9,"mean":0.27,"lo":0.02,"hi":0.39},{"group":"High","day":1.0,"mean":0.15,"lo":0.02,"hi":0.3},{"group":"High","day":1.1,"mean":0.16,"lo":0.02,"hi":0.27},{"group":"High","day":1.2,"mean":0.12,"lo":0.02,"hi":0.21},{"group":"High","day":1.3,"mean":0.14,"lo":0.02,"hi":0.24},{"group":"High","day":1.4,"mean":0.15,"lo":0.02,"hi":0.21},{"group":"High","day":1.5,"mean":0.16,"lo":0.02,"hi":0.18},{"group":"High","day":1.6,"mean":0.1,"lo":0.02,"hi":0.21},{"group":"High","day":1.7,"mean":0.12,"lo":0.02,"hi":0.15},{"group":"High","day":1.8,"mean":0.08,"lo":0.02,"hi":0.1},{"group":"High","day":1.9,"mean":0.06,"lo":0.01,"hi":0.08},{"group":"High","day":2.0,"mean":0.09,"lo":0.01,"hi":0.1},{"group":"High","day":2.1,"mean":0.08,"lo":0.01,"hi":0.12},{"group":"High","day":2.2,"mean":0.09,"lo":0.01,"hi":0.12},{"group":"High","day":2.3,"mean":0.09,"lo":0.01,"hi":0.12},{"group":"High","day":2.4,"mean":0.1,"lo":0.01,"hi":0.15},{"group":"High","day":2.5,"mean":0.06,"lo":0.01,"hi":0.12}
]
},
"resolve":{"scale":{"color":"independent"},"legend":{"color":"independent"}},
"vconcat":[
{"title":{"text":"SW dynamic pressure","offset":-5},"width":744,"height":140,"data":{"name":"pdyn"},
 "resolve":{"axis":{"x":"independent","y":"independent"}},
 "layer":[
  {"mark":{"type":"area","fillOpacity":0.2,"strokeOpacity":0.35,"strokeWidth":1},
   "encoding":{"x":{"field":"day","type":"quantitative","scale":{"domain":[-0.5,2.5],"nice":false,"zero":false},"axis":{"orient":"bottom","values":[-0.5,0,0.5,1,1.5,2,2.5],"labels":false,"title":null}},
    "y":{"field":"lo","type":"quantitative","scale":{"domain":[0,10],"nice":false},"axis":{"orient":"left","values":[0,5,10],"title":"nPa","labelExpr":"''+datum.value"}},
    "y2":{"field":"hi"},
    "fill":{"field":"group","type":"nominal","scale":{"domain":["Low","High"],"range":["#0000ff","#ff0000"]},"legend":null},
    "stroke":{"field":"group","type":"nominal","scale":{"domain":["Low","High"],"range":["#0000ff","#ff0000"]},"legend":null}}},
  {"mark":{"type":"line","strokeWidth":2.8},
   "encoding":{"x":{"field":"day","type":"quantitative","axis":null},
    "y":{"field":"mean","type":"quantitative","axis":{"orient":"right","values":[0,5,10],"labels":false,"title":null,"grid":false}},
    "color":{"field":"group","type":"nominal","scale":{"domain":["Low","High"],"range":["#0000ff","#ff0000"]},
     "legend":{"orient":"none","legendX":564,"legendY":10,"title":null,"labelExpr":"datum.label+' p_dyn'","symbolType":"M-3,0H3","symbolSize":400,"symbolOffset":16,"symbolStrokeWidth":2.8,"labelFont":"DejaVu Sans","labelFontSize":18,"labelColor":"#000000","labelOffset":27,"strokeColor":"#262626","fillColor":"#ffffff","padding":7,"rowPadding":14}}}},
  {"data":{"name":"markers"},"transform":[{"filter":"datum.kind=='window'"}],"mark":{"type":"rule","color":"#8c8c8c","strokeWidth":1.3,"strokeDash":[7,3,1.5,3]},"encoding":{"x":{"field":"day","type":"quantitative","axis":null}}},
  {"data":{"name":"markers"},"transform":[{"filter":"datum.kind=='epoch'"}],"mark":{"type":"rule","color":"#000000","strokeWidth":2,"strokeDash":[8,4]},"encoding":{"x":{"field":"day","type":"quantitative","axis":{"orient":"top","values":[-0.5,0,0.5,1,1.5,2,2.5],"labels":false,"title":null,"grid":false}}}}
 ]},
{"title":{"text":"SW flow velocity","offset":-2},"width":744,"height":137,"data":{"name":"vsw"},
 "resolve":{"axis":{"x":"independent","y":"independent"}},
 "layer":[
  {"mark":{"type":"area","fillOpacity":0.2,"strokeOpacity":0.35,"strokeWidth":1},
   "encoding":{"x":{"field":"day","type":"quantitative","scale":{"domain":[-0.5,2.5],"nice":false,"zero":false},"axis":{"orient":"bottom","values":[-0.5,0,0.5,1,1.5,2,2.5],"labels":false,"title":null}},
    "y":{"field":"lo","type":"quantitative","scale":{"domain":[300,750],"nice":false,"zero":false},"axis":{"orient":"left","values":[300,400,500,600,700],"title":"km/s","labelExpr":"''+datum.value"}},
    "y2":{"field":"hi"},
    "fill":{"field":"group","type":"nominal","scale":{"domain":["Low","High"],"range":["#0000ff","#ff0000"]},"legend":null},
    "stroke":{"field":"group","type":"nominal","scale":{"domain":["Low","High"],"range":["#0000ff","#ff0000"]},"legend":null}}},
  {"mark":{"type":"line","strokeWidth":2.8},
   "encoding":{"x":{"field":"day","type":"quantitative","axis":null},
    "y":{"field":"mean","type":"quantitative","axis":{"orient":"right","values":[300,400,500,600,700],"labels":false,"title":null,"grid":false}},
    "color":{"field":"group","type":"nominal","scale":{"domain":["Low","High"],"range":["#0000ff","#ff0000"]},"legend":null}}},
  {"data":{"name":"markers"},"transform":[{"filter":"datum.kind=='window'"}],"mark":{"type":"rule","color":"#8c8c8c","strokeWidth":1.3,"strokeDash":[7,3,1.5,3]},"encoding":{"x":{"field":"day","type":"quantitative","axis":null}}},
  {"data":{"name":"markers"},"transform":[{"filter":"datum.kind=='epoch'"}],"mark":{"type":"rule","color":"#000000","strokeWidth":2,"strokeDash":[8,4]},"encoding":{"x":{"field":"day","type":"quantitative","axis":{"orient":"top","values":[-0.5,0,0.5,1,1.5,2,2.5],"labels":false,"title":null,"grid":false}}}}
 ]},
{"title":{"text":"SW proton density","offset":-5},"width":744,"height":138,"data":{"name":"np"},
 "resolve":{"axis":{"x":"independent","y":"independent"}},
 "layer":[
  {"mark":{"type":"area","fillOpacity":0.2,"strokeOpacity":0.35,"strokeWidth":1},
   "encoding":{"x":{"field":"day","type":"quantitative","scale":{"domain":[-0.5,2.5],"nice":false,"zero":false},"axis":{"orient":"bottom","values":[-0.5,0,0.5,1,1.5,2,2.5],"labels":false,"title":null}},
    "y":{"field":"lo","type":"quantitative","scale":{"domain":[0,30],"nice":false},"axis":{"orient":"left","values":[0,10,20,30],"title":"cm⁻³","labelExpr":"''+datum.value"}},
    "y2":{"field":"hi"},
    "fill":{"field":"group","type":"nominal","scale":{"domain":["Low","High"],"range":["#0000ff","#ff0000"]},"legend":null},
    "stroke":{"field":"group","type":"nominal","scale":{"domain":["Low","High"],"range":["#0000ff","#ff0000"]},"legend":null}}},
  {"mark":{"type":"line","strokeWidth":2.8},
   "encoding":{"x":{"field":"day","type":"quantitative","axis":null},
    "y":{"field":"mean","type":"quantitative","axis":{"orient":"right","values":[0,10,20,30],"labels":false,"title":null,"grid":false}},
    "color":{"field":"group","type":"nominal","scale":{"domain":["Low","High"],"range":["#0000ff","#ff0000"]},"legend":null}}},
  {"data":{"name":"markers"},"transform":[{"filter":"datum.kind=='window'"}],"mark":{"type":"rule","color":"#8c8c8c","strokeWidth":1.3,"strokeDash":[7,3,1.5,3]},"encoding":{"x":{"field":"day","type":"quantitative","axis":null}}},
  {"data":{"name":"markers"},"transform":[{"filter":"datum.kind=='epoch'"}],"mark":{"type":"rule","color":"#000000","strokeWidth":2,"strokeDash":[8,4]},"encoding":{"x":{"field":"day","type":"quantitative","axis":{"orient":"top","values":[-0.5,0,0.5,1,1.5,2,2.5],"labels":false,"title":null,"grid":false}}}}
 ]},
{"title":{"text":"IMF Bz","offset":-4},"width":744,"height":139,"data":{"name":"bz"},
 "resolve":{"axis":{"x":"independent","y":"independent"}},
 "layer":[
  {"mark":{"type":"area","fillOpacity":0.2,"strokeOpacity":0.35,"strokeWidth":1},
   "encoding":{"x":{"field":"day","type":"quantitative","scale":{"domain":[-0.5,2.5],"nice":false,"zero":false},"axis":{"orient":"bottom","values":[-0.5,0,0.5,1,1.5,2,2.5],"labels":false,"title":null}},
    "y":{"field":"lo","type":"quantitative","scale":{"domain":[-10.8,10],"nice":false},"axis":{"orient":"left","values":[-10,0,10],"title":"nT","labelExpr":"''+datum.value"}},
    "y2":{"field":"hi"},
    "fill":{"field":"group","type":"nominal","scale":{"domain":["Low","High"],"range":["#0000ff","#ff0000"]},"legend":null},
    "stroke":{"field":"group","type":"nominal","scale":{"domain":["Low","High"],"range":["#0000ff","#ff0000"]},"legend":null}}},
  {"mark":{"type":"line","strokeWidth":2.8},
   "encoding":{"x":{"field":"day","type":"quantitative","axis":null},
    "y":{"field":"mean","type":"quantitative","axis":{"orient":"right","values":[-10,0,10],"labels":false,"title":null,"grid":false}},
    "color":{"field":"group","type":"nominal","scale":{"domain":["Low","High"],"range":["#0000ff","#ff0000"]},"legend":null}}},
  {"data":{"name":"zero"},"mark":{"type":"rule","color":"#0072bd","strokeWidth":2.2,"strokeDash":[8,5]},"encoding":{"y":{"field":"level","type":"quantitative","axis":null}}},
  {"data":{"name":"markers"},"transform":[{"filter":"datum.kind=='window'"}],"mark":{"type":"rule","color":"#8c8c8c","strokeWidth":1.3,"strokeDash":[7,3,1.5,3]},"encoding":{"x":{"field":"day","type":"quantitative","axis":null}}},
  {"data":{"name":"markers"},"transform":[{"filter":"datum.kind=='epoch'"}],"mark":{"type":"rule","color":"#000000","strokeWidth":2,"strokeDash":[8,4]},"encoding":{"x":{"field":"day","type":"quantitative","axis":{"orient":"top","values":[-0.5,0,0.5,1,1.5,2,2.5],"labels":false,"title":null,"grid":false}}}}
 ]},
{"title":{"text":"IMF B magnitude","offset":1},"width":744,"height":139,"data":{"name":"bmag"},
 "resolve":{"axis":{"x":"independent","y":"independent"}},
 "layer":[
  {"mark":{"type":"area","fillOpacity":0.2,"strokeOpacity":0.35,"strokeWidth":1},
   "encoding":{"x":{"field":"day","type":"quantitative","scale":{"domain":[-0.5,2.5],"nice":false,"zero":false},"axis":{"orient":"bottom","values":[-0.5,0,0.5,1,1.5,2,2.5],"labels":false,"title":null}},
    "y":{"field":"lo","type":"quantitative","scale":{"domain":[2,18],"nice":false,"zero":false},"axis":{"orient":"left","values":[5,10,15],"title":"nT","labelExpr":"''+datum.value"}},
    "y2":{"field":"hi"},
    "fill":{"field":"group","type":"nominal","scale":{"domain":["Low","High"],"range":["#0000ff","#ff0000"]},"legend":null},
    "stroke":{"field":"group","type":"nominal","scale":{"domain":["Low","High"],"range":["#0000ff","#ff0000"]},"legend":null}}},
  {"mark":{"type":"line","strokeWidth":2.8},
   "encoding":{"x":{"field":"day","type":"quantitative","axis":null},
    "y":{"field":"mean","type":"quantitative","axis":{"orient":"right","values":[5,10,15],"labels":false,"title":null,"grid":false}},
    "color":{"field":"group","type":"nominal","scale":{"domain":["Low","High"],"range":["#0000ff","#ff0000"]},"legend":null}}},
  {"data":{"name":"markers"},"transform":[{"filter":"datum.kind=='window'"}],"mark":{"type":"rule","color":"#8c8c8c","strokeWidth":1.3,"strokeDash":[7,3,1.5,3]},"encoding":{"x":{"field":"day","type":"quantitative","axis":null}}},
  {"data":{"name":"markers"},"transform":[{"filter":"datum.kind=='epoch'"}],"mark":{"type":"rule","color":"#000000","strokeWidth":2,"strokeDash":[8,4]},"encoding":{"x":{"field":"day","type":"quantitative","axis":{"orient":"top","values":[-0.5,0,0.5,1,1.5,2,2.5],"labels":false,"title":null,"grid":false}}}}
 ]},
{"title":{"text":"Akasofu epsilon","offset":-18},"width":744,"height":137,"data":{"name":"eps"},
 "resolve":{"axis":{"x":"independent","y":"independent"}},
 "layer":[
  {"mark":{"type":"area","fillOpacity":0.2,"strokeOpacity":0.35,"strokeWidth":1},
   "encoding":{"x":{"field":"day","type":"quantitative","scale":{"domain":[-0.5,2.5],"nice":false,"zero":false},"axis":{"orient":"bottom","values":[-0.5,0,0.5,1,1.5,2,2.5],"labelExpr":"datum.value+' day'","title":"Days after zero epoch","titlePadding":7}},
    "y":{"field":"lo","type":"quantitative","scale":{"domain":[0,2.47],"nice":false},"axis":{"orient":"left","values":[0,1,2],"title":"W","labelExpr":"''+datum.value"}},
    "y2":{"field":"hi"},
    "fill":{"field":"group","type":"nominal","scale":{"domain":["Low","High"],"range":["#0000ff","#ff0000"]},"legend":null},
    "stroke":{"field":"group","type":"nominal","scale":{"domain":["Low","High"],"range":["#0000ff","#ff0000"]},"legend":null}}},
  {"mark":{"type":"line","strokeWidth":2.8},
   "encoding":{"x":{"field":"day","type":"quantitative","axis":null},
    "y":{"field":"mean","type":"quantitative","axis":{"orient":"right","values":[0,1,2],"labels":false,"title":null,"grid":false}},
    "color":{"field":"group","type":"nominal","scale":{"domain":["Low","High"],"range":["#0000ff","#ff0000"]},"legend":null}}},
  {"data":{"name":"markers"},"transform":[{"filter":"datum.kind=='window'"}],"mark":{"type":"rule","color":"#8c8c8c","strokeWidth":1.3,"strokeDash":[7,3,1.5,3]},"encoding":{"x":{"field":"day","type":"quantitative","axis":null}}},
  {"data":{"name":"markers"},"transform":[{"filter":"datum.kind=='epoch'"}],"mark":{"type":"rule","color":"#000000","strokeWidth":2,"strokeDash":[8,4]},"encoding":{"x":{"field":"day","type":"quantitative","axis":{"orient":"top","values":[-0.5,0,0.5,1,1.5,2,2.5],"labels":false,"grid":false,"title":"×10¹²","titleAnchor":"start","titleAlign":"left","titleFontSize":17.5,"titlePadding":1}}}}
 ]}
]
}
